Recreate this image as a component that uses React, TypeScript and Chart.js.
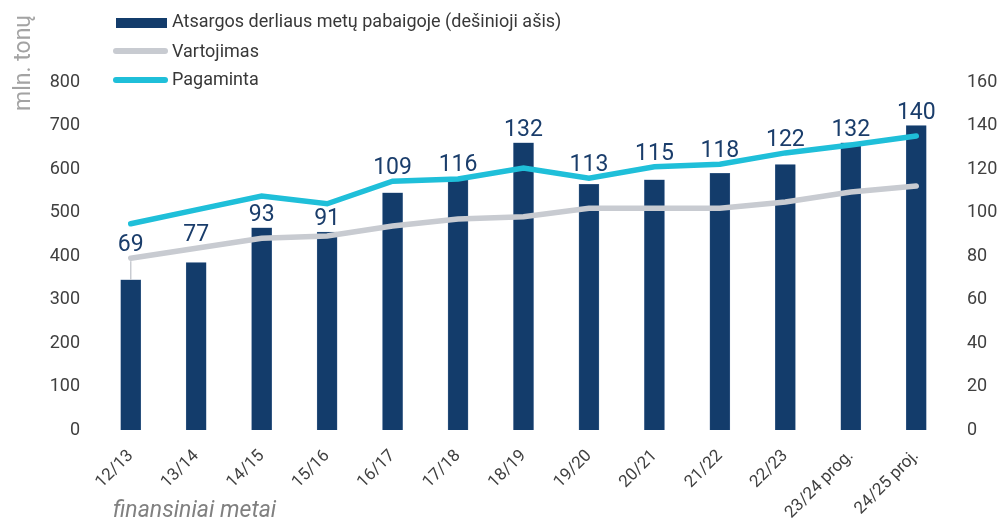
import React, { useEffect, useRef } from "react";
import { Chart, registerables } from "chart.js";

Chart.register(...registerables);

const categories = ["12/13", "13/14", "14/15", "15/16", "16/17", "17/18", "18/19", "19/20", "20/21", "21/22", "22/23", "23/24 prog.", "24/25 proj."];
const stocks = [69, 77, 93, 91, 109, 116, 132, 113, 115, 118, 122, 132, 140];
const consumption = [395, 418, 441, 446, 469, 485, 490, 510, 510, 510, 524, 547, 561];
const production = [474, 506, 538, 520, 572, 577, 602, 579, 605, 611, 637, 655, 676];
const leftTicks = [0, 100, 200, 300, 400, 500, 600, 700, 800];
const rightTicks = [0, 20, 40, 60, 80, 100, 120, 140, 160];

const BAR = "#133c6b";
const GREY = "#c8cbd1";
const CYAN = "#1fbfd9";
const FONT = "Roboto";

const overlay = {
  id: "overlay",
  afterDatasetsDraw(chart: any) {
    const ctx = chart.ctx;
    const barMeta = chart.getDatasetMeta(2);
    const cyanMeta = chart.getDatasetMeta(0);
    const greyMeta = chart.getDatasetMeta(1);
    ctx.save();
    ctx.font = `23px ${FONT}`;
    ctx.fillStyle = "#1a3d6b";
    ctx.textAlign = "center";
    ctx.textBaseline = "alphabetic";
    barMeta.data.forEach((bar: any, i: number) => {
      let y0 = bar.y;
      const lineYs = [greyMeta.data[i].y, cyanMeta.data[i].y].sort((a, b) => b - a);
      for (const ly of lineYs) {
        if (ly < y0 && y0 - ly < 25) y0 = ly;
      }
      if (bar.y - y0 > 18) {
        ctx.save();
        ctx.strokeStyle = GREY;
        ctx.lineWidth = 1.5;
        ctx.beginPath();
        ctx.moveTo(bar.x, y0 + 3);
        ctx.lineTo(bar.x, bar.y);
        ctx.stroke();
        ctx.restore();
      }
      ctx.fillText(String(stocks[i]), bar.x, y0 - 7);
    });
    ctx.restore();
  },
  afterDraw(chart: any) {
    const ctx = chart.ctx;
    ctx.save();
    // legend
    ctx.fillStyle = BAR;
    ctx.fillRect(116, 18, 51, 10);
    ctx.lineCap = "round";
    ctx.lineWidth = 6;
    ctx.strokeStyle = GREY;
    ctx.beginPath();
    ctx.moveTo(116, 51);
    ctx.lineTo(165, 51);
    ctx.stroke();
    ctx.strokeStyle = CYAN;
    ctx.beginPath();
    ctx.moveTo(116, 80);
    ctx.lineTo(165, 80);
    ctx.stroke();
    ctx.font = `18px ${FONT}`;
    ctx.fillStyle = "#383838";
    ctx.textAlign = "left";
    ctx.textBaseline = "middle";
    ctx.fillText("Atsargos derliaus metų pabaigoje (dešinioji ašis)", 172, 22);
    ctx.fillText("Vartojimas", 172, 52);
    ctx.fillText("Pagaminta", 172, 80);
    // y title
    ctx.save();
    ctx.translate(24, 63);
    ctx.rotate(-Math.PI / 2);
    ctx.font = `23px ${FONT}`;
    ctx.fillStyle = "#a3a3a3";
    ctx.textAlign = "center";
    ctx.textBaseline = "middle";
    ctx.fillText("mln. tonų", 0, 0);
    ctx.restore();
    // x title
    ctx.font = `italic 23px ${FONT}`;
    ctx.fillStyle = "#808080";
    ctx.textAlign = "left";
    ctx.textBaseline = "middle";
    ctx.fillText("finansiniai metai", 113, 511);
    ctx.restore();
  },
};

export default function App() {
  const ref = useRef<HTMLCanvasElement>(null);
  useEffect(() => {
    const chart = new Chart(ref.current!, {
      type: "bar",
      data: {
        labels: categories,
        datasets: [
          {
            type: "line",
            label: "Pagaminta",
            data: production,
            borderColor: CYAN,
            backgroundColor: CYAN,
            borderWidth: 5.5,
            pointRadius: 0,
            tension: 0,
            yAxisID: "y",
            order: 0,
            borderCapStyle: "round",
          } as any,
          {
            type: "line",
            label: "Vartojimas",
            data: consumption,
            borderColor: GREY,
            backgroundColor: GREY,
            borderWidth: 5.5,
            pointRadius: 0,
            tension: 0,
            yAxisID: "y",
            order: 1,
            borderCapStyle: "round",
          } as any,
          {
            type: "bar",
            label: "Atsargos derliaus metų pabaigoje (dešinioji ašis)",
            data: stocks,
            backgroundColor: BAR,
            borderColor: "#4a6c96",
            borderWidth: 0.5,
            barThickness: 20,
            yAxisID: "y1",
            order: 2,
          } as any,
        ],
      },
      options: {
        responsive: false,
        animation: false,
        layout: { padding: { top: 82, left: 0, right: 0, bottom: 0 } },
        plugins: { legend: { display: false }, tooltip: { enabled: false } },
        scales: {
          x: {
            grid: { display: false },
            border: { display: false },
            ticks: {
              font: { family: FONT, size: 17 },
              color: "#404040",
              minRotation: 45,
              maxRotation: 45,
              padding: 8,
            },
            afterFit(scale: any) {
              scale.height = 93;
            },
          },
          y: {
            position: "left",
            min: 0,
            max: 800,
            grid: { display: false },
            border: { display: false },
            afterBuildTicks(scale: any) {
              scale.ticks = leftTicks.map((v) => ({ value: v }));
            },
            ticks: { font: { family: FONT, size: 18 }, color: "#404040", padding: 10 },
            afterFit(scale: any) {
              scale.width = 98;
            },
          },
          y1: {
            position: "right",
            min: 0,
            max: 160,
            grid: { display: false },
            border: { display: false },
            afterBuildTicks(scale: any) {
              scale.ticks = rightTicks.map((v) => ({ value: v }));
            },
            ticks: { font: { family: FONT, size: 18 }, color: "#404040", padding: 10 },
            afterFit(scale: any) {
              scale.width = 53;
            },
          },
        },
      },
      plugins: [overlay],
    });
    return () => chart.destroy();
  }, []);
  return (
    <div style={{ position: "absolute", left: 0, top: 0, width: 1002, height: 523, background: "#fff" }}>
      <canvas ref={ref} width={1002} height={523} style={{ width: 1002, height: 523 }} />
    </div>
  );
}
